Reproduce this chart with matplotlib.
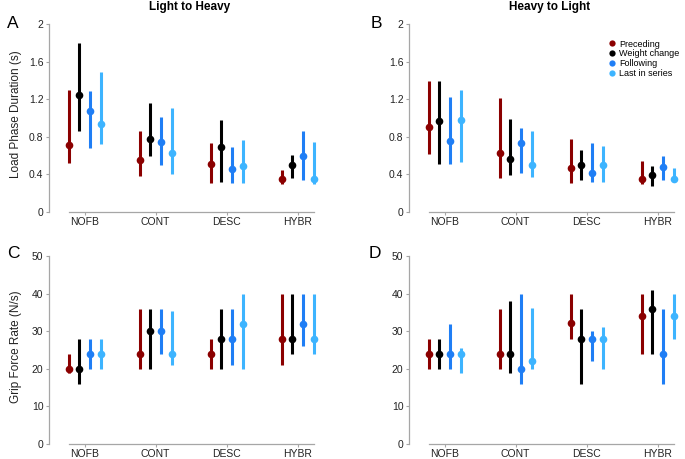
import matplotlib
matplotlib.use("Agg")
import matplotlib.pyplot as plt
from matplotlib.lines import Line2D
import numpy as np

plt.rcParams['font.family'] = ['Liberation Sans', 'DejaVu Sans']

conditions = ['NOFB', 'CONT', 'DESC', 'HYBR']
series = ['Preceding', 'Weight change', 'Following', 'Last in series']
colors = ['#8b0000', '#000000', '#1f7ef5', '#3db4ff']

# Load phase duration (s), light to heavy: [series][condition]
lpd_lh_mid = [[0.71, 0.55, 0.51, 0.355],
              [1.24, 0.78, 0.69, 0.50],
              [1.07, 0.74, 0.46, 0.60],
              [0.94, 0.63, 0.49, 0.355]]
lpd_lh_lo = [[0.52, 0.38, 0.31, 0.30],
             [0.865, 0.60, 0.32, 0.36],
             [0.68, 0.50, 0.31, 0.34],
             [0.72, 0.40, 0.31, 0.295]]
lpd_lh_hi = [[1.30, 0.86, 0.73, 0.45],
             [1.80, 1.16, 0.98, 0.61],
             [1.29, 1.01, 0.69, 0.86],
             [1.49, 1.11, 0.77, 0.75]]

# Load phase duration (s), heavy to light
lpd_hl_mid = [[0.90, 0.63, 0.465, 0.35],
              [0.965, 0.56, 0.50, 0.39],
              [0.76, 0.73, 0.41, 0.48],
              [0.98, 0.50, 0.50, 0.35]]
lpd_hl_lo = [[0.62, 0.365, 0.31, 0.295],
             [0.51, 0.39, 0.345, 0.28],
             [0.51, 0.42, 0.32, 0.34],
             [0.53, 0.37, 0.32, 0.32]]
lpd_hl_hi = [[1.39, 1.21, 0.78, 0.54],
             [1.39, 0.99, 0.66, 0.49],
             [1.22, 0.89, 0.73, 0.60],
             [1.30, 0.86, 0.70, 0.465]]

# Grip force rate (N/s), light to heavy
gfr_lh_mid = [[20, 24, 24, 28],
              [20, 30, 28, 28],
              [24, 30, 28, 32],
              [24, 24, 32, 28]]
gfr_lh_lo = [[19, 20, 20, 21],
             [16, 20, 20, 24],
             [20, 24, 21, 26],
             [20, 21, 20, 24]]
gfr_lh_hi = [[24, 35.8, 28, 40],
             [28, 36, 36, 40],
             [28, 36, 36, 40],
             [28, 35.3, 40, 40]]

# Grip force rate (N/s), heavy to light
gfr_hl_mid = [[24, 24, 32.3, 34],
              [24, 24, 28, 36],
              [24, 20, 28, 24],
              [24, 22, 28, 34]]
gfr_hl_lo = [[20, 20, 28, 24],
             [20, 19, 16, 24],
             [20, 16, 22, 16],
             [19, 20, 20, 28]]
gfr_hl_hi = [[28, 36, 40, 40],
             [28, 38, 36, 41],
             [32, 40, 30, 36],
             [25.5, 36.3, 31, 40]]

offsets = [-0.225, -0.075, 0.075, 0.225]
spine_col = '#a6a6a6'


def draw_panel(ax, mid, lo, hi, ymax, yticks, ytick_labels, ylabel=None):
    x = np.arange(len(conditions))
    for i in range(len(series)):
        xs = x + offsets[i]
        ax.vlines(xs, lo[i], hi[i], color=colors[i], lw=2.2)
        ax.plot(xs, mid[i], 'o', color=colors[i], ms=5.5, mec='none')
    ax.set_xlim(-0.5, 3.3)
    ax.set_ylim(0, ymax)
    for s in ['top', 'right']:
        ax.spines[s].set_visible(False)
    ax.spines['left'].set_color(spine_col)
    ax.spines['bottom'].set_color(spine_col)
    ax.spines['left'].set_linewidth(0.9)
    ax.spines['bottom'].set_linewidth(0.9)
    ax.spines['bottom'].set_bounds(-0.225, 3.225)
    ax.set_xticks(x)
    ax.set_xticklabels(conditions)
    ax.set_yticks(yticks)
    ax.set_yticklabels(ytick_labels)
    ax.tick_params(colors=spine_col, labelcolor='#222222', labelsize=7.5,
                   length=2, width=0.8)
    ax.tick_params(axis='x', pad=1.5)
    ax.tick_params(axis='y', pad=2)
    if ylabel:
        ax.set_ylabel(ylabel, fontsize=8.5, color='#222222')
        ax.yaxis.set_label_coords(-0.10, 0.52)


fig = plt.figure(figsize=(6.85, 4.59), dpi=100)
W, H = 685.0, 459.0
ax_w = 270 / W
axA = fig.add_axes([49 / W, 1 - 212 / H, ax_w, 188 / H])
axB = fig.add_axes([409 / W, 1 - 212 / H, ax_w, 188 / H])
axC = fig.add_axes([49 / W, 1 - 444 / H, ax_w, 188 / H])
axD = fig.add_axes([409 / W, 1 - 444 / H, ax_w, 188 / H])

lpd_ticks = [0, 0.4, 0.8, 1.2, 1.6, 2]
lpd_labels = ['0', '0.4', '0.8', '1.2', '1.6', '2']
gfr_ticks = [0, 10, 20, 30, 40, 50]
gfr_labels = [str(t) for t in gfr_ticks]

draw_panel(axA, lpd_lh_mid, lpd_lh_lo, lpd_lh_hi, 2, lpd_ticks, lpd_labels,
           'Load Phase Duration (s)')
draw_panel(axB, lpd_hl_mid, lpd_hl_lo, lpd_hl_hi, 2, lpd_ticks, lpd_labels)
draw_panel(axC, gfr_lh_mid, gfr_lh_lo, gfr_lh_hi, 50, gfr_ticks, gfr_labels,
           'Grip Force Rate (N/s)')
draw_panel(axD, gfr_hl_mid, gfr_hl_lo, gfr_hl_hi, 50, gfr_ticks, gfr_labels)

# column titles
fig.text(190 / W, 1 - 7 / H, 'Light to Heavy', ha='center', va='center',
         fontsize=8.5, fontweight='bold')
fig.text(550 / W, 1 - 7 / H, 'Heavy to Light', ha='center', va='center',
         fontsize=8.5, fontweight='bold')

# panel letters
for lab, px, py in [('A', 13, 23), ('B', 376, 23), ('C', 13, 253), ('D', 375, 253)]:
    fig.text(px / W, 1 - py / H, lab, ha='center', va='center', fontsize=12.5)

handles = [Line2D([], [], ls='none', marker='o', color=c, ms=4.5, mec='none')
           for c in colors]
fig.legend(handles, series, loc='upper left', bbox_to_anchor=(604 / W, 1 - 35 / H),
           bbox_transform=fig.transFigure, frameon=False, fontsize=6.5,
           borderpad=0, handlelength=0.8, handletextpad=0.4, labelspacing=0.1)

plt.savefig('out.png', dpi=100)
